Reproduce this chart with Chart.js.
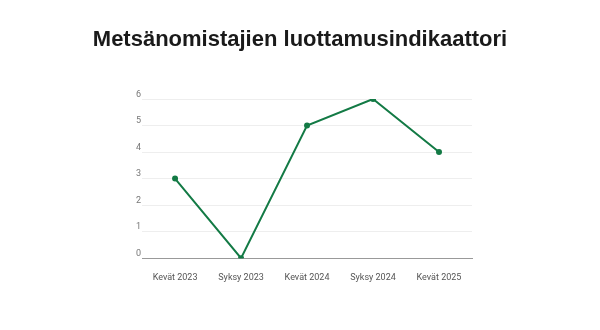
<!DOCTYPE html>
<html>
<head>
<meta charset="utf-8">
<script src="https://cdn.jsdelivr.net/npm/chart.js@4/dist/chart.umd.min.js"></script>
<style>
  html, body { margin: 0; padding: 0; background: #fff; }
  #wrap { width: 600px; height: 330px; position: relative; }
</style>
</head>
<body>
<div id="wrap"><canvas id="chart"></canvas></div>
<script>
const chartTitle = 'Metsänomistajien luottamusindikaattori';
const categories = ['Kevät 2023', 'Syksy 2023', 'Kevät 2024', 'Syksy 2024', 'Kevät 2025'];
const values = [3, 0, 5, 6, 4];
const yTicks = [0, 1, 2, 3, 4, 5, 6];

const lineColor = '#137a45';

// title drawn across the full canvas width (Chart.js title would squeeze it into the padded box)
const pageTitle = {
    id: 'pageTitle',
    afterDraw(chart) {
        const c = chart.ctx;
        c.save();
        c.font = 'bold 22px "Liberation Sans", Arial, sans-serif';
        c.fillStyle = '#1a1a1a';
        c.textAlign = 'center';
        c.textBaseline = 'middle';
        c.fillText(chartTitle, chart.width / 2, 40);
        c.restore();
    }
};

const ctx = document.getElementById('chart').getContext('2d');

const myChart = new Chart(ctx, {
    type: 'line',
    data: {
        labels: categories,
        datasets: [{
            data: values,
            borderColor: lineColor,
            backgroundColor: lineColor,
            borderWidth: 2,
            pointRadius: 2,
            pointHoverRadius: 2,
            tension: 0
        }]
    },
    plugins: [pageTitle],
    options: {
        responsive: true,
        maintainAspectRatio: false,
        animation: false,
        layout: {
            padding: { top: 99, left: 135, right: 128, bottom: 33 }
        },
        plugins: {
            legend: { display: false },
            tooltip: { enabled: false },
            title: { display: false }
        },
        scales: {
            x: {
                offset: true,
                grid: { display: false, drawTicks: false },
                border: { display: true, color: '#999999', width: 1 },
                ticks: {
                    color: '#555555',
                    padding: 14,
                    maxRotation: 0,
                    font: { family: 'Roboto, sans-serif', size: 9 }
                }
            },
            y: {
                min: 0,
                max: 6,
                afterBuildTicks: (axis) => {
                    axis.ticks = yTicks.map(v => ({ value: v }));
                },
                grid: { color: '#eeeeee', drawTicks: false },
                border: { display: false },
                ticks: {
                    color: '#777777',
                    padding: 1,
                    align: 'end',
                    crossAlign: 'near',
                    font: { family: 'Roboto, sans-serif', size: 9 }
                }
            }
        }
    }
});
</script>
</body>
</html>
